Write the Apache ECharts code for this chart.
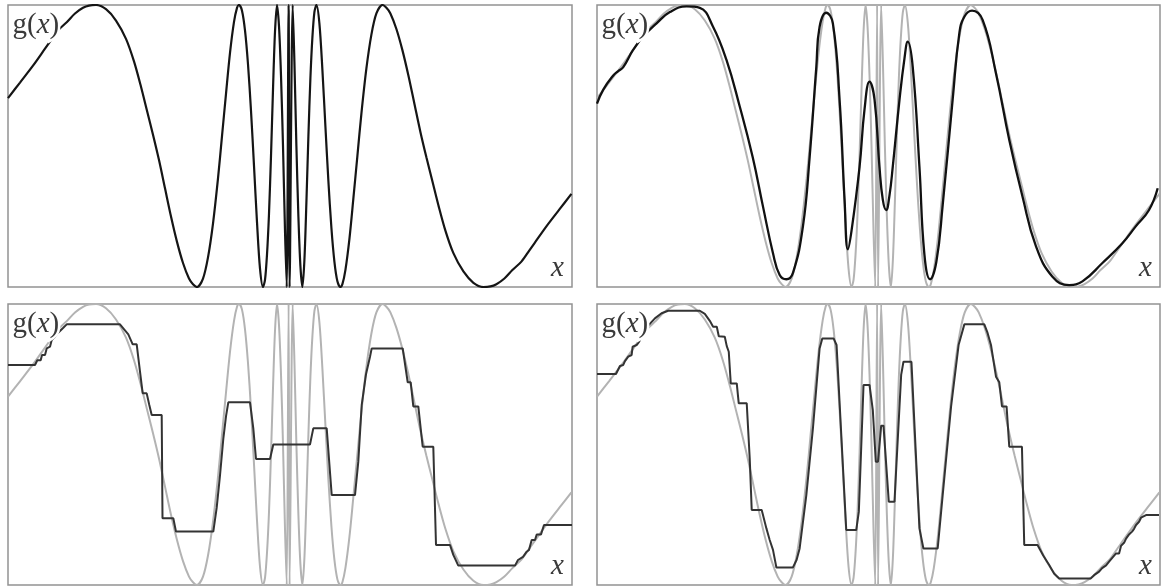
<!DOCTYPE html>
<html>
<head>
<meta charset="utf-8">
<script src="https://cdn.jsdelivr.net/npm/echarts@6/dist/echarts.min.js"></script>
<style>
  html, body { margin: 0; padding: 0; background: #fff; }
  #chart { width: 1162px; height: 587px; }
</style>
</head>
<body>
<div id="chart"></div>
<script>
// g(x) itself (grey reference curve), x in panel units 0..564, g in -1..1
const exactCurve = [
  [0,0.34],[12,0.45],[25,0.57],[37,0.69],[42,0.74],[50,0.82],[59,0.88],[67,0.94],[75,0.98],[81,0.996],[88,1],
  [98,0.97],[108,0.89],[118,0.76],[126,0.60],[133,0.42],[139,0.25],[145,0.08],[151,-0.10],[157,-0.30],[163,-0.50],
  [169,-0.68],[175,-0.83],[181,-0.94],[185,-0.98],[189,-1],
  [195,-0.94],[200,-0.79],[205,-0.55],[210,-0.23],[214,0.07],[218,0.37],[222,0.66],[226,0.88],[229,0.98],[231,1],
  [234,0.96],[237,0.82],[240,0.58],[243,0.25],[246,-0.14],[249,-0.54],[252,-0.87],[255,-1],
  [257,-0.95],[259,-0.77],[261,-0.48],[263,-0.07],[265,0.40],[267,0.81],[269,1],
  [271,0.85],[273,0.5],[275,0.0],[277,-0.6],[278.7,-1],
  [280.6,1],[281.6,-1],[284.7,1],
  [286.4,0.6],[288.4,0.0],[290.4,-0.5],[292.4,-0.85],[294.4,-1],
  [296.4,-0.81],[298.4,-0.40],[300.4,0.07],[302.4,0.48],[304.4,0.77],[306.4,0.95],[308.4,1],
  [311.4,0.87],[314.4,0.54],[317.4,0.14],[320.4,-0.25],[323.4,-0.58],[326.4,-0.82],[329.4,-0.96],[332.4,-1],
  [334.4,-0.98],[337.4,-0.88],[341.4,-0.66],[345.4,-0.37],[349.4,-0.07],[353.4,0.23],[358.4,0.55],[363.4,0.79],
  [368.4,0.94],[374.4,1],
  [378.4,0.98],[382.4,0.94],[388.4,0.83],[394.4,0.68],[400.4,0.50],[406.4,0.30],[412.4,0.10],[418.4,-0.08],
  [424.4,-0.25],[430.4,-0.42],[437.4,-0.60],[445.4,-0.76],[455.4,-0.89],[465.4,-0.97],[475.4,-1],
  [482.4,-0.996],[488.4,-0.98],[496.4,-0.94],[504.4,-0.88],[513.4,-0.82],[521.4,-0.74],[526.4,-0.69],
  [538.4,-0.57],[551.4,-0.45],[563.4,-0.34]
];

// top right: smooth approximation
const smoothFit = [
  [0,0.30],[6.3,0.40],[16.3,0.50],[21,0.53],[26.3,0.56],[36,0.68],[46,0.775],[59.7,0.87],[73,0.95],[89.7,0.99],
  [103,0.98],[116,0.85],[129.7,0.61],[143,0.28],[156,-0.08],[166.3,-0.43],[176.3,-0.76],[183,-0.915],[189.7,-0.945],
  [196.3,-0.90],[206.3,-0.57],[213,-0.08],[219.7,0.56],[223,0.846],[229.7,0.945],[236.3,0.87],[243,0.33],
  [248,-0.38],[251.3,-0.733],[255,-0.6],[263,-0.15],[268,0.26],[273,0.456],[278,0.33],[283,-0.15],[286.3,-0.38],
  [289.7,-0.454],[293,-0.35],[296.3,-0.147],[303,0.326],[308,0.62],[311.3,0.74],[316.3,0.56],[323,-0.147],
  [328,-0.77],[333.7,-0.945],[340,-0.82],[346.3,-0.42],[356.3,0.33],[363,0.80],[368,0.917],[375.7,0.96],
  [386.3,0.894],[399.7,0.515],[413,0.043],[426.3,-0.36],[439.7,-0.71],[456.3,-0.927],[473,-0.986],[486.3,-0.96],
  [506.3,-0.83],[526.3,-0.69],[539.7,-0.57],[553,-0.454],[561.7,-0.30]
];

// bottom left: coarse step approximation
const coarseSteps = [
  [0,0.566],[27,0.566],[29.3,0.60],[32.7,0.60],[34,0.637],[37,0.637],[38.7,0.684],[42,0.696],[43.7,0.744],
  [47,0.767],[49.3,0.79],[52,0.808],[55.3,0.831],[58.7,0.855],[112,0.855],[115.3,0.827],[120.3,0.784],[122,0.784],
  [124.7,0.713],[128.7,0.713],[132,0.518],[134.7,0.364],[138.7,0.364],[141.3,0.281],[143.7,0.21],[153.7,0.21],
  [154.5,-0.525],[165.3,-0.525],[168,-0.62],[205.3,-0.62],[208.7,-0.45],[212,-0.22],[215.3,0.04],[218,0.2],
  [220.3,0.30],[242,0.30],[245.3,0.115],[248,-0.103],[262,-0.103],[265.3,0.0],[302,0.0],[305.3,0.115],
  [318.7,0.115],[323.7,-0.36],[347,-0.36],[350.3,-0.122],[353.7,0.281],[358,0.5],[362,0.625],[363.7,0.684],
  [394.7,0.684],[399.7,0.443],[402.7,0.443],[405.3,0.271],[410.3,0.271],[414.7,-0.016],[425.3,-0.016],
  [428,-0.715],[442,-0.715],[445.3,-0.786],[450.3,-0.862],[507,-0.862],[510,-0.822],[515,-0.80],[518.7,-0.763],
  [521,-0.75],[523.7,-0.68],[527,-0.68],[528.7,-0.64],[533,-0.64],[536,-0.573],[564,-0.573]
];

// bottom right: finer step approximation
const fineSteps = [
  [0,0.502],[19,0.502],[23,0.559],[26.3,0.566],[28,0.594],[31.3,0.625],[34.7,0.637],[35.7,0.696],[39.7,0.708],
  [42.3,0.732],[46.3,0.798],[51.3,0.846],[58,0.898],[64.7,0.934],[71.3,0.952],[103,0.952],[108,0.93],[113,0.88],
  [116.3,0.838],[120,0.838],[122,0.77],[128,0.767],[130,0.7],[132,0.66],[134,0.435],[140,0.435],[142,0.293],
  [150,0.293],[153,-0.1],[155,-0.466],[165,-0.466],[169.7,-0.597],[173,-0.68],[176.3,-0.75],[179.7,-0.875],
  [196.3,-0.875],[200,-0.82],[203,-0.74],[209.7,-0.36],[216.3,0.115],[223,0.684],[225.7,0.755],[237,0.755],
  [240,0.708],[249.7,-0.609],[259.7,-0.609],[262.3,-0.478],[267,0.424],[273,0.424],[276.3,0.245],[279.3,-0.122],
  [281.5,-0.122],[284.7,0.134],[287,0.134],[292.3,-0.407],[298,-0.407],[304.7,0.495],[307,0.589],[315,0.589],
  [323,-0.597],[327,-0.74],[341.3,-0.74],[346.3,-0.36],[354.7,0.27],[362.3,0.71],[368,0.855],[388,0.855],
  [391,0.8],[394.7,0.708],[399.7,0.483],[403,0.443],[405.7,0.271],[410.3,0.271],[413,-0.016],[425.7,-0.016],
  [428,-0.715],[441.3,-0.715],[447,-0.79],[453,-0.858],[458,-0.92],[463,-0.953],[494.7,-0.953],[498,-0.93],
  [503,-0.905],[506,-0.88],[510,-0.86],[513,-0.834],[517,-0.8],[520,-0.775],[523,-0.775],[525,-0.72],[528,-0.7],
  [530,-0.67],[533,-0.64],[536,-0.62],[538,-0.6],[540,-0.573],[543,-0.55],[545,-0.521],[550,-0.502],[563,-0.502]
];

const xLabel = 'x';

const panels = [
  {left: 8, top: 5, width: 564, height: 282},
  {left: 597, top: 5, width: 563, height: 282},
  {left: 8, top: 304, width: 564, height: 281},
  {left: 597, top: 304, width: 563, height: 281}
];

const chart = echarts.init(document.getElementById('chart'));

function line(i, data, color, width, z, smooth) {
  return {
    type: 'line', xAxisIndex: i, yAxisIndex: i, data: data,
    showSymbol: false, symbol: 'none', smooth: smooth, z: z,
    lineStyle: {color: color, width: width}, silent: true
  };
}

const grey = '#b3b3b3';
const series = [
  line(0, exactCurve, '#151515', 2.2, 3, 0.3),
  line(1, exactCurve, grey, 2, 2, 0.3),
  line(1, smoothFit, '#111', 2.3, 3, 0.45),
  line(2, exactCurve, grey, 2, 2, 0.3),
  line(2, coarseSteps, '#333', 2, 3, false),
  line(3, exactCurve, grey, 2, 2, 0.3),
  line(3, fineSteps, '#333', 2, 3, false)
];

const graphic = [];
panels.forEach(p => {
  graphic.push({
    type: 'text', left: p.left + 2, top: p.top + 3, z: 100,
    style: {
      text: '{r|g(}{i|x}{r|)}',
      rich: {
        r: {font: '29px "Liberation Serif"', fill: '#3a3a3a', stroke: '#fff', lineWidth: 5},
        i: {font: 'italic 29px "Liberation Serif"', fill: '#3a3a3a', stroke: '#fff', lineWidth: 5}
      }
    }
  });
  graphic.push({
    type: 'text', left: p.left + p.width - 21, top: p.top + p.height - 33, z: 100,
    style: {
      text: xLabel, font: 'italic 29px "Liberation Serif"', fill: '#3a3a3a'
    }
  });
});

chart.setOption({
  animation: false,
  backgroundColor: '#fff',
  grid: panels.map(p => Object.assign({show: true, borderColor: '#929292', borderWidth: 1.5}, p)),
  xAxis: panels.map((p, i) => ({type: 'value', gridIndex: i, min: 0, max: 564, show: false})),
  yAxis: panels.map((p, i) => ({type: 'value', gridIndex: i, min: -1, max: 1, show: false})),
  series: series,
  graphic: graphic
});
</script>
</body>
</html>
